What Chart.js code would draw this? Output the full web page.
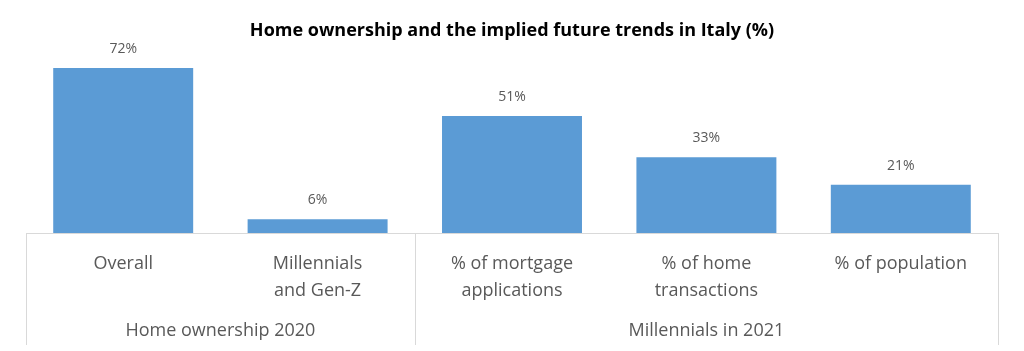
<!DOCTYPE html>
<html>
<head>
<meta charset="utf-8">
<script src="https://cdn.jsdelivr.net/npm/chart.js@4"></script>
<style>
  html, body { margin: 0; padding: 0; background: #fff; }
  #wrap { width: 1024px; height: 351px; }
</style>
</head>
<body>
<div id="wrap"><canvas id="myChart"></canvas></div>
<script>
// data
var categories = [
  ['Overall'],
  ['Millennials', 'and Gen-Z'],
  ['% of mortgage', 'applications'],
  ['% of home', 'transactions'],
  ['% of population']
];
var values = [72, 6, 51, 33, 21];
var groups = ['Home ownership 2020', 'Millennials in 2021'];
var groupSizes = [2, 3];

var textGrey = '#595959';
var lineGrey = '#d9d9d9';
var fontFam = '"Open Sans", "Liberation Sans", sans-serif';

// value labels above bars
var barLabels = {
  id: 'barLabels',
  afterDatasetsDraw: function(chart) {
    var ctx = chart.ctx;
    var meta = chart.getDatasetMeta(0);
    ctx.save();
    ctx.fillStyle = textGrey;
    ctx.font = '14px ' + fontFam;
    ctx.textAlign = 'center';
    ctx.textBaseline = 'middle';
    meta.data.forEach(function(bar, i) {
      ctx.fillText(values[i] + '%', bar.x, bar.y - 19);
    });
    ctx.restore();
  }
};

// group labels + separators under the axis
var groupAxis = {
  id: 'groupAxis',
  afterDraw: function(chart) {
    var ctx = chart.ctx;
    var x = chart.scales.x;
    var area = chart.chartArea;
    var step = (area.right - area.left) / categories.length;
    var bottom = chart.height - 6;
    ctx.save();
    ctx.strokeStyle = lineGrey;
    ctx.lineWidth = 1;
    // horizontal axis line
    ctx.beginPath();
    ctx.moveTo(area.left, area.bottom + 0.5);
    ctx.lineTo(area.right, area.bottom + 0.5);
    ctx.stroke();
    var start = 0;
    var edges = [area.left];
    groups.forEach(function(g, gi) {
      var end = start + groupSizes[gi];
      var x0 = x.getPixelForValue(start) - step / 2;
      var x1 = x.getPixelForValue(end - 1) + step / 2;
      edges.push(x1);
      ctx.fillStyle = textGrey;
      ctx.font = '18px ' + fontFam;
      ctx.textAlign = 'center';
      ctx.textBaseline = 'middle';
      ctx.fillText(g, (x0 + x1) / 2, 331);
      start = end;
    });
    edges.forEach(function(e) {
      var px = Math.round(e) + 0.5;
      ctx.beginPath();
      ctx.moveTo(px, area.bottom);
      ctx.lineTo(px, bottom);
      ctx.stroke();
    });
    ctx.restore();
  }
};

var ctx = document.getElementById('myChart');
var chart = new Chart(ctx, {
  type: 'bar',
  data: {
    labels: categories,
    datasets: [{
      data: values,
      backgroundColor: '#5b9bd5',
      borderWidth: 0,
      categoryPercentage: 0.72,
      barPercentage: 1.0
    }]
  },
  options: {
    responsive: true,
    maintainAspectRatio: false,
    animation: false,
    layout: { padding: { left: 26, right: 26, top: 0, bottom: 0 } },
    plugins: {
      legend: { display: false },
      tooltip: { enabled: false },
      title: {
        display: true,
        text: 'Home ownership and the implied future trends in Italy (%)',
        color: '#000',
        font: { family: fontFam, size: 18, weight: 'bold', lineHeight: 1.2 },
        padding: { top: 20, bottom: 8 }
      }
    },
    scales: {
      x: {
        grid: { display: false, drawTicks: false },
        border: { display: false },
        ticks: {
          color: textGrey,
          font: { family: fontFam, size: 18, lineHeight: 1.5 },
          padding: 17,
          maxRotation: 0,
          autoSkip: false
        },
        afterFit: function(scale) { scale.height = 118; }
      },
      y: {
        display: false,
        min: 0,
        max: 80
      }
    }
  },
  plugins: [barLabels, groupAxis]
});
</script>
</body>
</html>
